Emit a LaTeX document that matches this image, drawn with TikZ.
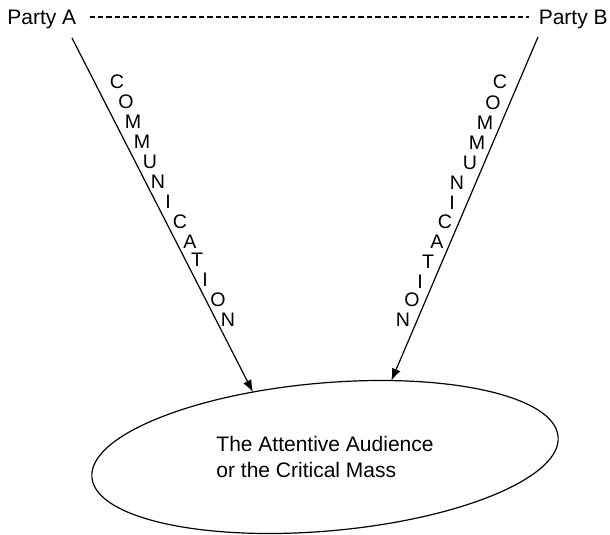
\documentclass[tikz,border=0pt]{standalone}
\usepackage{fontspec}
\setmainfont{Liberation Sans}
\usepackage{tikz}
\usetikzlibrary{arrows.meta, positioning, shapes.geometric}

\begin{document}
\begin{tikzpicture}[
    x=0.5pt, y=-0.5pt,
    >=Latex,
    arrow/.style={-{Latex[length=6pt,width=4.6pt]}, line width=0.6pt},
    dashline/.style={dash pattern=on 2.7pt off 1.5pt, line width=0.65pt},
    party/.style={font=\fontsize{10.5}{13}\selectfont, inner sep=0pt},
    letter/.style={font=\fontsize{9.8}{12}\selectfont, inner sep=0pt},
    audience/.style={draw, ellipse, line width=0.6pt, minimum width=234pt, minimum height=74pt, inner sep=0pt, outer sep=0pt},
    blurb/.style={font=\fontsize{10.5}{13}\selectfont, align=left},
]

\useasboundingbox (0,0) rectangle (610,535);

% ---------- Parties ----------
\node[party, anchor=base west] (pa) at (7,25)   {Party A};
\node[party, anchor=base east] (pb) at (608,25) {Party B};

\draw[dashline] ([xshift=6.5pt,yshift=1.5pt]pa.east) -- ([xshift=-4.5pt,yshift=1.5pt]pb.west);

% ---------- Audience ----------
\node[audience, rotate=5] (aud) at (325,457) {};
\node[blurb] (txt) at (aud.center) {The Attentive Audience\\or the Critical Mass};

% ---------- Arrows ----------
\coordinate (a0) at (72,38);
\coordinate (b0) at (538,37);
\draw[arrow] (a0) -- (aud.133.4);
\draw[arrow] (b0) -- (aud.44);

% ---------- Letters along the arrows ----------
\foreach \ch/\px/\py [count=\i] in {C/117/82,O/126/102,M/133/122,M/142/142,U/150/162,N/158/182,I/168/202,C/180/222,A/190/242,T/197/260,I/205/280,O/218/300,N/228/320}{
  \node[letter] (la\i) at (\px,\py) {\ch};
}
\foreach \ch/\px/\py [count=\i] in {C/500/82,O/493/103,M/485/123,M/477/143,U/470/163,N/457/183,I/452/203,C/445/222,A/437/242,T/428/262,I/420/282,O/412/300,N/403/320}{
  \node[letter] (lb\i) at (\px,\py) {\ch};
}

\end{tikzpicture}
\end{document}
